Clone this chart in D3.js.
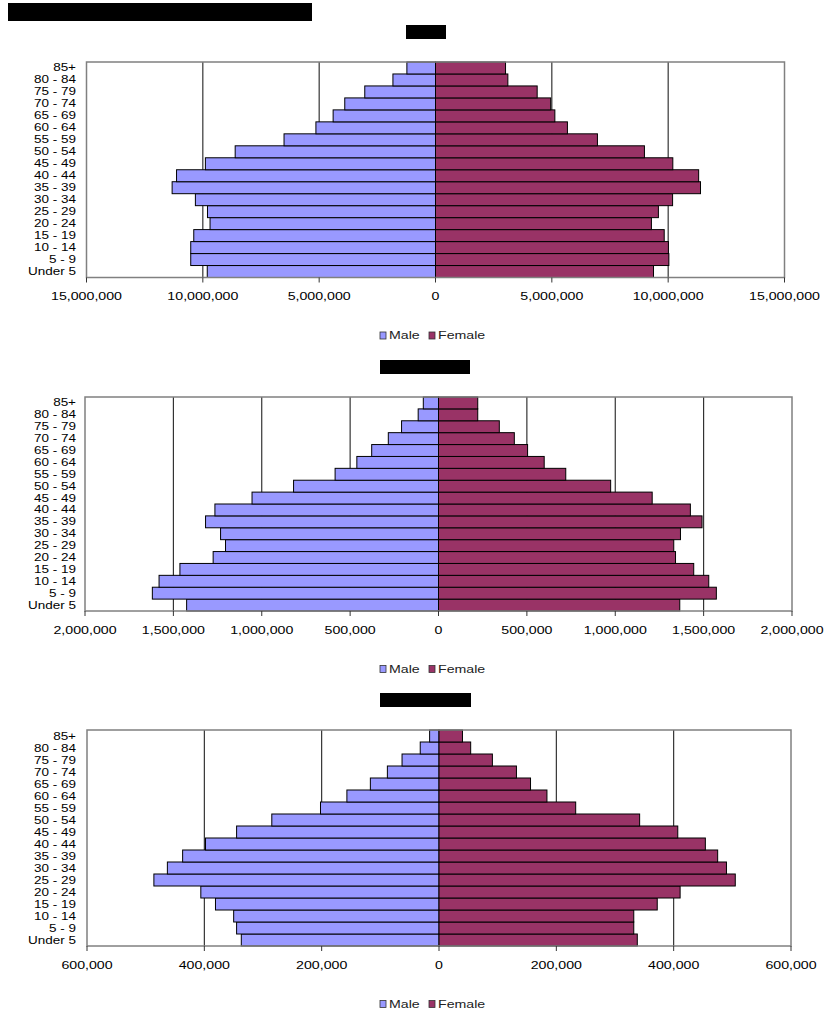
<!DOCTYPE html>
<html>
<head>
<meta charset="utf-8">
<script src="https://cdn.jsdelivr.net/npm/d3@7/dist/d3.min.js"></script>
<style>
  body { margin: 0; background: #fff; }
  text { font-family: "Liberation Sans", Arial, sans-serif; }
</style>
</head>
<body>
<div id="chart"></div>
<script>
// age groups, bottom to top
const ageGroups = ['Under 5', '5 - 9', '10 - 14', '15 - 19', '20 - 24', '25 - 29', '30 - 34', '35 - 39',
  '40 - 44', '45 - 49', '50 - 54', '55 - 59', '60 - 64', '65 - 69', '70 - 74', '75 - 79', '80 - 84', '85+'];

// chart 1
const maleA = [9810000, 10520000, 10520000, 10390000, 9690000, 9800000, 10320000, 11320000, 11130000,
  9890000, 8610000, 6510000, 5140000, 4400000, 3900000, 3040000, 1830000, 1230000];
const femaleA = [9370000, 10030000, 10010000, 9830000, 9280000, 9580000, 10190000, 11390000, 11310000,
  10200000, 8980000, 6960000, 5670000, 5130000, 4950000, 4370000, 3110000, 3010000];
const ticksA = [-15000000, -10000000, -5000000, 0, 5000000, 10000000, 15000000];

// chart 2
const maleB = [1425000, 1619000, 1581000, 1463000, 1275000, 1205000, 1233000, 1318000, 1265000,
  1055000, 820000, 585000, 462000, 378000, 284000, 209000, 115000, 86000];
const femaleB = [1365000, 1572000, 1529000, 1444000, 1341000, 1331000, 1369000, 1491000, 1425000,
  1209000, 974000, 720000, 598000, 504000, 429000, 344000, 222000, 222000];
const ticksB = [-2000000, -1500000, -1000000, -500000, 0, 500000, 1000000, 1500000, 2000000];

// chart 3
const maleC = [337000, 345000, 350000, 381000, 406000, 486000, 463000, 437000, 398000,
  345000, 285000, 202000, 157000, 117000, 88000, 63000, 32000, 16000];
const femaleC = [338000, 332000, 332000, 372000, 411000, 505000, 490000, 475000, 454000,
  407000, 342000, 233000, 184000, 156000, 132000, 91000, 54000, 40000];
const ticksC = [-600000, -400000, -200000, 0, 200000, 400000, 600000];

const seriesNames = ['Male', 'Female'];
const colors = {Male: '#9999ff', Female: '#993366'};
const stretch = 1.35; // text in the picture is drawn wide

const svg = d3.select('#chart').append('svg')
  .attr('width', 825)
  .attr('height', 1012);

// page title (blacked out in the source)
svg.append('rect').attr('x', 8).attr('y', 3).attr('width', 304).attr('height', 18).attr('fill', '#000');

function stretchedText(g, x, y, str, size, anchor, fill) {
  return g.append('text')
    .attr('transform', `translate(${x},${y}) scale(${stretch},1)`)
    .attr('text-anchor', anchor)
    .attr('dy', '0.35em')
    .style('font-size', size + 'px')
    .attr('fill', fill || '#000')
    .text(str);
}

function drawPyramid(cfg) {
  const g = svg.append('g');

  const x = d3.scaleLinear()
    .domain([cfg.ticks[0], cfg.ticks[cfg.ticks.length - 1]])
    .range([cfg.left, cfg.right]);
  const y = d3.scaleBand()
    .domain(ageGroups.slice().reverse())
    .range([cfg.top, cfg.bottom])
    .padding(0);

  // chart title (blacked out)
  g.append('rect')
    .attr('x', cfg.titleX).attr('y', cfg.top - 37)
    .attr('width', cfg.titleW).attr('height', 14)
    .attr('fill', '#000');

  // gridlines
  g.selectAll('.grid')
    .data(cfg.ticks.slice(1, -1))
    .join('line')
    .attr('class', 'grid')
    .attr('x1', d => x(d)).attr('x2', d => x(d))
    .attr('y1', cfg.top).attr('y2', cfg.bottom)
    .attr('stroke', '#222').attr('stroke-width', 1.1);

  const rows = ageGroups.map((a, i) => ({age: a, Male: cfg.male[i], Female: cfg.female[i]}));

  g.selectAll('.male')
    .data(rows)
    .join('rect')
    .attr('class', 'male')
    .attr('x', d => x(-d.Male))
    .attr('width', d => x(0) - x(-d.Male))
    .attr('y', d => y(d.age))
    .attr('height', y.bandwidth())
    .attr('fill', colors.Male)
    .attr('stroke', '#000').attr('stroke-width', 1);

  g.selectAll('.female')
    .data(rows)
    .join('rect')
    .attr('class', 'female')
    .attr('x', x(0))
    .attr('width', d => x(d.Female) - x(0))
    .attr('y', d => y(d.age))
    .attr('height', y.bandwidth())
    .attr('fill', colors.Female)
    .attr('stroke', '#000').attr('stroke-width', 1);

  // plot border
  g.append('rect')
    .attr('x', cfg.left).attr('y', cfg.top)
    .attr('width', cfg.right - cfg.left).attr('height', cfg.bottom - cfg.top)
    .attr('fill', 'none').attr('stroke', '#808080').attr('stroke-width', 1.5);

  // x ticks and labels
  g.selectAll('.tick')
    .data(cfg.ticks)
    .join('line')
    .attr('class', 'tick')
    .attr('x1', d => x(d)).attr('x2', d => x(d))
    .attr('y1', cfg.bottom).attr('y2', cfg.bottom + 5)
    .attr('stroke', '#333');

  const fmt = d3.format(',');
  cfg.ticks.forEach(t => stretchedText(g, x(t), cfg.bottom + 19, fmt(Math.abs(t)), 10.5, 'middle'));

  // category labels
  ageGroups.forEach(a => stretchedText(g, 76, y(a) + y.bandwidth() / 2, a, 10, 'end'));

  // legend
  const ly = cfg.bottom + 58;
  const legendX = [380, 429];
  seriesNames.forEach((s, i) => {
    g.append('rect')
      .attr('x', legendX[i]).attr('y', ly - 3.5)
      .attr('width', 6).attr('height', 7)
      .attr('fill', colors[s]).attr('stroke', '#333').attr('stroke-width', 0.8);
    stretchedText(g, legendX[i] + 9, ly, s, 10.5, 'start', '#222');
  });
}

drawPyramid({male: maleA, female: femaleA, ticks: ticksA,
  left: 86.5, right: 784.5, top: 62, bottom: 277.5, titleX: 406, titleW: 40});
drawPyramid({male: maleB, female: femaleB, ticks: ticksB,
  left: 85, right: 792, top: 397, bottom: 611, titleX: 380, titleW: 90});
drawPyramid({male: maleC, female: femaleC, ticks: ticksC,
  left: 87, right: 791, top: 730, bottom: 946, titleX: 380, titleW: 91});
</script>
</body>
</html>
